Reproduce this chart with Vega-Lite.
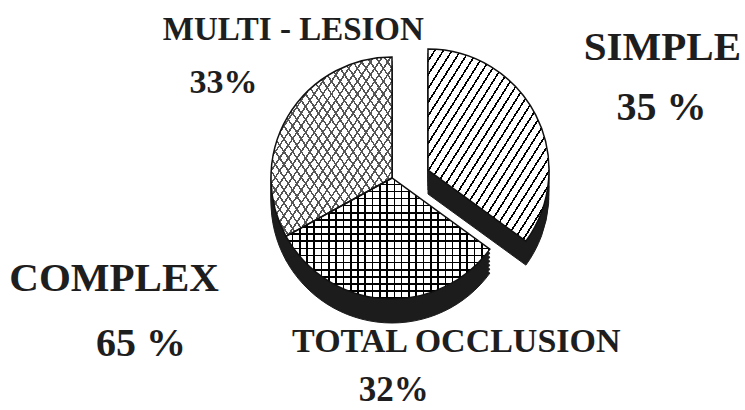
{
"$schema": "https://vega.github.io/schema/vega-lite/v6.json",
"width": 706, "height": 356,
"autosize": {"type": "none"},
"padding": {"left": 39, "right": 0, "top": 0, "bottom": 54},
"background": "white",
"config": {"view": {"stroke": null}},
"data": {"values": [
 {"name": "SIMPLE", "pct": "35 %", "slice": 35, "ord": 1},
 {"name": "TOTAL OCCLUSION", "pct": "32%", "slice": 32, "ord": 2},
 {"name": "COMPLEX", "pct": "65 %", "slice": 0, "ord": 3},
 {"name": "MULTI - LESION", "pct": "33%", "slice": 33, "ord": 4}
]},
"encoding": {
 "theta": {"field": "slice", "type": "quantitative", "stack": true},
 "order": {"field": "ord", "type": "quantitative"}
},
"layer": [
 {"mark": {"type": "arc", "radius": 121, "fill": "#1c1c1c", "stroke": "#1c1c1c", "strokeWidth": 1,
   "xOffset": {"expr": "datum.name === 'SIMPLE' ? 36 : 0"},
   "yOffset": {"expr": "datum.name === 'SIMPLE' ? -4 : 4"}}},
 {"mark": {"type": "arc", "radius": 121, "fill": "#1c1c1c", "stroke": "#1c1c1c", "strokeWidth": 1,
   "xOffset": {"expr": "datum.name === 'SIMPLE' ? 36 : 0"},
   "yOffset": {"expr": "datum.name === 'SIMPLE' ? 0 : 8"}}},
 {"mark": {"type": "arc", "radius": 121, "fill": "#1c1c1c", "stroke": "#1c1c1c", "strokeWidth": 1,
   "xOffset": {"expr": "datum.name === 'SIMPLE' ? 36 : 0"},
   "yOffset": {"expr": "datum.name === 'SIMPLE' ? 4 : 12"}}},
 {"mark": {"type": "arc", "radius": 121, "fill": "#1c1c1c", "stroke": "#1c1c1c", "strokeWidth": 1,
   "xOffset": {"expr": "datum.name === 'SIMPLE' ? 36 : 0"},
   "yOffset": {"expr": "datum.name === 'SIMPLE' ? 8 : 16"}}},
 {"mark": {"type": "arc", "radius": 121, "fill": "#1c1c1c", "stroke": "#1c1c1c", "strokeWidth": 1,
   "xOffset": {"expr": "datum.name === 'SIMPLE' ? 36 : 0"},
   "yOffset": {"expr": "datum.name === 'SIMPLE' ? 12 : 20"}}},
 {"mark": {"type": "arc", "radius": 121, "fill": "#1c1c1c", "stroke": "#1c1c1c", "strokeWidth": 1,
   "xOffset": {"expr": "datum.name === 'SIMPLE' ? 36 : 0"},
   "yOffset": {"expr": "datum.name === 'SIMPLE' ? 16 : 24"}}},
 {"mark": {"type": "arc", "radius": 121, "xOffset": 36, "yOffset": -8,
   "fill": {"gradient": "linear", "x1": 0, "y1": 0, "x2": 1, "y2": 1, "stops": [
{"offset":0,"color":"white"},{"offset":0.0279,"color":"white"},{"offset":0.0279,"color":"black"},{"offset":0.0357,"color":"black"},
{"offset":0.0357,"color":"white"},{"offset":0.0636,"color":"white"},{"offset":0.0636,"color":"black"},{"offset":0.0714,"color":"black"},
{"offset":0.0714,"color":"white"},{"offset":0.0993,"color":"white"},{"offset":0.0993,"color":"black"},{"offset":0.1071,"color":"black"},
{"offset":0.1071,"color":"white"},{"offset":0.135,"color":"white"},{"offset":0.135,"color":"black"},{"offset":0.1429,"color":"black"},
{"offset":0.1429,"color":"white"},{"offset":0.1707,"color":"white"},{"offset":0.1707,"color":"black"},{"offset":0.1786,"color":"black"},
{"offset":0.1786,"color":"white"},{"offset":0.2064,"color":"white"},{"offset":0.2064,"color":"black"},{"offset":0.2143,"color":"black"},
{"offset":0.2143,"color":"white"},{"offset":0.2421,"color":"white"},{"offset":0.2421,"color":"black"},{"offset":0.25,"color":"black"},
{"offset":0.25,"color":"white"},{"offset":0.2779,"color":"white"},{"offset":0.2779,"color":"black"},{"offset":0.2857,"color":"black"},
{"offset":0.2857,"color":"white"},{"offset":0.3136,"color":"white"},{"offset":0.3136,"color":"black"},{"offset":0.3214,"color":"black"},
{"offset":0.3214,"color":"white"},{"offset":0.3493,"color":"white"},{"offset":0.3493,"color":"black"},{"offset":0.3571,"color":"black"},
{"offset":0.3571,"color":"white"},{"offset":0.385,"color":"white"},{"offset":0.385,"color":"black"},{"offset":0.3929,"color":"black"},
{"offset":0.3929,"color":"white"},{"offset":0.4207,"color":"white"},{"offset":0.4207,"color":"black"},{"offset":0.4286,"color":"black"},
{"offset":0.4286,"color":"white"},{"offset":0.4564,"color":"white"},{"offset":0.4564,"color":"black"},{"offset":0.4643,"color":"black"},
{"offset":0.4643,"color":"white"},{"offset":0.4921,"color":"white"},{"offset":0.4921,"color":"black"},{"offset":0.5,"color":"black"},
{"offset":0.5,"color":"white"},{"offset":0.5279,"color":"white"},{"offset":0.5279,"color":"black"},{"offset":0.5357,"color":"black"},
{"offset":0.5357,"color":"white"},{"offset":0.5636,"color":"white"},{"offset":0.5636,"color":"black"},{"offset":0.5714,"color":"black"},
{"offset":0.5714,"color":"white"},{"offset":0.5993,"color":"white"},{"offset":0.5993,"color":"black"},{"offset":0.6071,"color":"black"},
{"offset":0.6071,"color":"white"},{"offset":0.635,"color":"white"},{"offset":0.635,"color":"black"},{"offset":0.6429,"color":"black"},
{"offset":0.6429,"color":"white"},{"offset":0.6707,"color":"white"},{"offset":0.6707,"color":"black"},{"offset":0.6786,"color":"black"},
{"offset":0.6786,"color":"white"},{"offset":0.7064,"color":"white"},{"offset":0.7064,"color":"black"},{"offset":0.7143,"color":"black"},
{"offset":0.7143,"color":"white"},{"offset":0.7421,"color":"white"},{"offset":0.7421,"color":"black"},{"offset":0.75,"color":"black"},
{"offset":0.75,"color":"white"},{"offset":0.7779,"color":"white"},{"offset":0.7779,"color":"black"},{"offset":0.7857,"color":"black"},
{"offset":0.7857,"color":"white"},{"offset":0.8136,"color":"white"},{"offset":0.8136,"color":"black"},{"offset":0.8214,"color":"black"},
{"offset":0.8214,"color":"white"},{"offset":0.8493,"color":"white"},{"offset":0.8493,"color":"black"},{"offset":0.8571,"color":"black"},
{"offset":0.8571,"color":"white"},{"offset":0.885,"color":"white"},{"offset":0.885,"color":"black"},{"offset":0.8929,"color":"black"},
{"offset":0.8929,"color":"white"},{"offset":0.9207,"color":"white"},{"offset":0.9207,"color":"black"},{"offset":0.9286,"color":"black"},
{"offset":0.9286,"color":"white"},{"offset":0.9564,"color":"white"},{"offset":0.9564,"color":"black"},{"offset":0.9643,"color":"black"},
{"offset":0.9643,"color":"white"},{"offset":0.9921,"color":"white"},{"offset":0.9921,"color":"black"},{"offset":1,"color":"black"}
   ]}},
  "encoding": {"opacity": {"condition": {"test": "datum.name === 'SIMPLE'", "value": 1}, "value": 0}}},
 {"mark": {"type": "arc", "radius": 121,
   "fill": {"gradient": "linear", "x1": 0, "y1": 0, "x2": 1, "y2": 0, "stops": [
{"offset":0,"color":"white"},{"offset":0.0279,"color":"white"},{"offset":0.0279,"color":"black"},{"offset":0.0357,"color":"black"},
{"offset":0.0357,"color":"white"},{"offset":0.0636,"color":"white"},{"offset":0.0636,"color":"black"},{"offset":0.0714,"color":"black"},
{"offset":0.0714,"color":"white"},{"offset":0.0993,"color":"white"},{"offset":0.0993,"color":"black"},{"offset":0.1071,"color":"black"},
{"offset":0.1071,"color":"white"},{"offset":0.135,"color":"white"},{"offset":0.135,"color":"black"},{"offset":0.1429,"color":"black"},
{"offset":0.1429,"color":"white"},{"offset":0.1707,"color":"white"},{"offset":0.1707,"color":"black"},{"offset":0.1786,"color":"black"},
{"offset":0.1786,"color":"white"},{"offset":0.2064,"color":"white"},{"offset":0.2064,"color":"black"},{"offset":0.2143,"color":"black"},
{"offset":0.2143,"color":"white"},{"offset":0.2421,"color":"white"},{"offset":0.2421,"color":"black"},{"offset":0.25,"color":"black"},
{"offset":0.25,"color":"white"},{"offset":0.2779,"color":"white"},{"offset":0.2779,"color":"black"},{"offset":0.2857,"color":"black"},
{"offset":0.2857,"color":"white"},{"offset":0.3136,"color":"white"},{"offset":0.3136,"color":"black"},{"offset":0.3214,"color":"black"},
{"offset":0.3214,"color":"white"},{"offset":0.3493,"color":"white"},{"offset":0.3493,"color":"black"},{"offset":0.3571,"color":"black"},
{"offset":0.3571,"color":"white"},{"offset":0.385,"color":"white"},{"offset":0.385,"color":"black"},{"offset":0.3929,"color":"black"},
{"offset":0.3929,"color":"white"},{"offset":0.4207,"color":"white"},{"offset":0.4207,"color":"black"},{"offset":0.4286,"color":"black"},
{"offset":0.4286,"color":"white"},{"offset":0.4564,"color":"white"},{"offset":0.4564,"color":"black"},{"offset":0.4643,"color":"black"},
{"offset":0.4643,"color":"white"},{"offset":0.4921,"color":"white"},{"offset":0.4921,"color":"black"},{"offset":0.5,"color":"black"},
{"offset":0.5,"color":"white"},{"offset":0.5279,"color":"white"},{"offset":0.5279,"color":"black"},{"offset":0.5357,"color":"black"},
{"offset":0.5357,"color":"white"},{"offset":0.5636,"color":"white"},{"offset":0.5636,"color":"black"},{"offset":0.5714,"color":"black"},
{"offset":0.5714,"color":"white"},{"offset":0.5993,"color":"white"},{"offset":0.5993,"color":"black"},{"offset":0.6071,"color":"black"},
{"offset":0.6071,"color":"white"},{"offset":0.635,"color":"white"},{"offset":0.635,"color":"black"},{"offset":0.6429,"color":"black"},
{"offset":0.6429,"color":"white"},{"offset":0.6707,"color":"white"},{"offset":0.6707,"color":"black"},{"offset":0.6786,"color":"black"},
{"offset":0.6786,"color":"white"},{"offset":0.7064,"color":"white"},{"offset":0.7064,"color":"black"},{"offset":0.7143,"color":"black"},
{"offset":0.7143,"color":"white"},{"offset":0.7421,"color":"white"},{"offset":0.7421,"color":"black"},{"offset":0.75,"color":"black"},
{"offset":0.75,"color":"white"},{"offset":0.7779,"color":"white"},{"offset":0.7779,"color":"black"},{"offset":0.7857,"color":"black"},
{"offset":0.7857,"color":"white"},{"offset":0.8136,"color":"white"},{"offset":0.8136,"color":"black"},{"offset":0.8214,"color":"black"},
{"offset":0.8214,"color":"white"},{"offset":0.8493,"color":"white"},{"offset":0.8493,"color":"black"},{"offset":0.8571,"color":"black"},
{"offset":0.8571,"color":"white"},{"offset":0.885,"color":"white"},{"offset":0.885,"color":"black"},{"offset":0.8929,"color":"black"},
{"offset":0.8929,"color":"white"},{"offset":0.9207,"color":"white"},{"offset":0.9207,"color":"black"},{"offset":0.9286,"color":"black"},
{"offset":0.9286,"color":"white"},{"offset":0.9564,"color":"white"},{"offset":0.9564,"color":"black"},{"offset":0.9643,"color":"black"},
{"offset":0.9643,"color":"white"},{"offset":0.9921,"color":"white"},{"offset":0.9921,"color":"black"},{"offset":1,"color":"black"}
   ]}},
  "encoding": {"opacity": {"condition": {"test": "datum.name === 'TOTAL OCCLUSION'", "value": 1}, "value": 0}}},
 {"mark": {"type": "arc", "radius": 121,
   "fill": {"gradient": "linear", "x1": 0, "y1": 0, "x2": 0, "y2": 1, "stops": [
{"offset":0,"color":"transparent"},{"offset":0.0459,"color":"transparent"},{"offset":0.0459,"color":"black"},{"offset":0.0588,"color":"black"},
{"offset":0.0588,"color":"transparent"},{"offset":0.1047,"color":"transparent"},{"offset":0.1047,"color":"black"},{"offset":0.1176,"color":"black"},
{"offset":0.1176,"color":"transparent"},{"offset":0.1635,"color":"transparent"},{"offset":0.1635,"color":"black"},{"offset":0.1765,"color":"black"},
{"offset":0.1765,"color":"transparent"},{"offset":0.2224,"color":"transparent"},{"offset":0.2224,"color":"black"},{"offset":0.2353,"color":"black"},
{"offset":0.2353,"color":"transparent"},{"offset":0.2812,"color":"transparent"},{"offset":0.2812,"color":"black"},{"offset":0.2941,"color":"black"},
{"offset":0.2941,"color":"transparent"},{"offset":0.34,"color":"transparent"},{"offset":0.34,"color":"black"},{"offset":0.3529,"color":"black"},
{"offset":0.3529,"color":"transparent"},{"offset":0.3988,"color":"transparent"},{"offset":0.3988,"color":"black"},{"offset":0.4118,"color":"black"},
{"offset":0.4118,"color":"transparent"},{"offset":0.4576,"color":"transparent"},{"offset":0.4576,"color":"black"},{"offset":0.4706,"color":"black"},
{"offset":0.4706,"color":"transparent"},{"offset":0.5165,"color":"transparent"},{"offset":0.5165,"color":"black"},{"offset":0.5294,"color":"black"},
{"offset":0.5294,"color":"transparent"},{"offset":0.5753,"color":"transparent"},{"offset":0.5753,"color":"black"},{"offset":0.5882,"color":"black"},
{"offset":0.5882,"color":"transparent"},{"offset":0.6341,"color":"transparent"},{"offset":0.6341,"color":"black"},{"offset":0.6471,"color":"black"},
{"offset":0.6471,"color":"transparent"},{"offset":0.6929,"color":"transparent"},{"offset":0.6929,"color":"black"},{"offset":0.7059,"color":"black"},
{"offset":0.7059,"color":"transparent"},{"offset":0.7518,"color":"transparent"},{"offset":0.7518,"color":"black"},{"offset":0.7647,"color":"black"},
{"offset":0.7647,"color":"transparent"},{"offset":0.8106,"color":"transparent"},{"offset":0.8106,"color":"black"},{"offset":0.8235,"color":"black"},
{"offset":0.8235,"color":"transparent"},{"offset":0.8694,"color":"transparent"},{"offset":0.8694,"color":"black"},{"offset":0.8824,"color":"black"},
{"offset":0.8824,"color":"transparent"},{"offset":0.9282,"color":"transparent"},{"offset":0.9282,"color":"black"},{"offset":0.9412,"color":"black"},
{"offset":0.9412,"color":"transparent"},{"offset":0.9871,"color":"transparent"},{"offset":0.9871,"color":"black"},{"offset":1,"color":"black"}
   ]}},
  "encoding": {"opacity": {"condition": {"test": "datum.name === 'TOTAL OCCLUSION'", "value": 1}, "value": 0}}},
 {"mark": {"type": "arc", "radius": 121,
   "fill": {"gradient": "linear", "x1": 0, "y1": 0, "x2": 1, "y2": 1, "stops": [
{"offset":0,"color":"white"},{"offset":0.0279,"color":"white"},{"offset":0.0279,"color":"#555"},{"offset":0.0357,"color":"#555"},
{"offset":0.0357,"color":"white"},{"offset":0.0636,"color":"white"},{"offset":0.0636,"color":"#555"},{"offset":0.0714,"color":"#555"},
{"offset":0.0714,"color":"white"},{"offset":0.0993,"color":"white"},{"offset":0.0993,"color":"#555"},{"offset":0.1071,"color":"#555"},
{"offset":0.1071,"color":"white"},{"offset":0.135,"color":"white"},{"offset":0.135,"color":"#555"},{"offset":0.1429,"color":"#555"},
{"offset":0.1429,"color":"white"},{"offset":0.1707,"color":"white"},{"offset":0.1707,"color":"#555"},{"offset":0.1786,"color":"#555"},
{"offset":0.1786,"color":"white"},{"offset":0.2064,"color":"white"},{"offset":0.2064,"color":"#555"},{"offset":0.2143,"color":"#555"},
{"offset":0.2143,"color":"white"},{"offset":0.2421,"color":"white"},{"offset":0.2421,"color":"#555"},{"offset":0.25,"color":"#555"},
{"offset":0.25,"color":"white"},{"offset":0.2779,"color":"white"},{"offset":0.2779,"color":"#555"},{"offset":0.2857,"color":"#555"},
{"offset":0.2857,"color":"white"},{"offset":0.3136,"color":"white"},{"offset":0.3136,"color":"#555"},{"offset":0.3214,"color":"#555"},
{"offset":0.3214,"color":"white"},{"offset":0.3493,"color":"white"},{"offset":0.3493,"color":"#555"},{"offset":0.3571,"color":"#555"},
{"offset":0.3571,"color":"white"},{"offset":0.385,"color":"white"},{"offset":0.385,"color":"#555"},{"offset":0.3929,"color":"#555"},
{"offset":0.3929,"color":"white"},{"offset":0.4207,"color":"white"},{"offset":0.4207,"color":"#555"},{"offset":0.4286,"color":"#555"},
{"offset":0.4286,"color":"white"},{"offset":0.4564,"color":"white"},{"offset":0.4564,"color":"#555"},{"offset":0.4643,"color":"#555"},
{"offset":0.4643,"color":"white"},{"offset":0.4921,"color":"white"},{"offset":0.4921,"color":"#555"},{"offset":0.5,"color":"#555"},
{"offset":0.5,"color":"white"},{"offset":0.5279,"color":"white"},{"offset":0.5279,"color":"#555"},{"offset":0.5357,"color":"#555"},
{"offset":0.5357,"color":"white"},{"offset":0.5636,"color":"white"},{"offset":0.5636,"color":"#555"},{"offset":0.5714,"color":"#555"},
{"offset":0.5714,"color":"white"},{"offset":0.5993,"color":"white"},{"offset":0.5993,"color":"#555"},{"offset":0.6071,"color":"#555"},
{"offset":0.6071,"color":"white"},{"offset":0.635,"color":"white"},{"offset":0.635,"color":"#555"},{"offset":0.6429,"color":"#555"},
{"offset":0.6429,"color":"white"},{"offset":0.6707,"color":"white"},{"offset":0.6707,"color":"#555"},{"offset":0.6786,"color":"#555"},
{"offset":0.6786,"color":"white"},{"offset":0.7064,"color":"white"},{"offset":0.7064,"color":"#555"},{"offset":0.7143,"color":"#555"},
{"offset":0.7143,"color":"white"},{"offset":0.7421,"color":"white"},{"offset":0.7421,"color":"#555"},{"offset":0.75,"color":"#555"},
{"offset":0.75,"color":"white"},{"offset":0.7779,"color":"white"},{"offset":0.7779,"color":"#555"},{"offset":0.7857,"color":"#555"},
{"offset":0.7857,"color":"white"},{"offset":0.8136,"color":"white"},{"offset":0.8136,"color":"#555"},{"offset":0.8214,"color":"#555"},
{"offset":0.8214,"color":"white"},{"offset":0.8493,"color":"white"},{"offset":0.8493,"color":"#555"},{"offset":0.8571,"color":"#555"},
{"offset":0.8571,"color":"white"},{"offset":0.885,"color":"white"},{"offset":0.885,"color":"#555"},{"offset":0.8929,"color":"#555"},
{"offset":0.8929,"color":"white"},{"offset":0.9207,"color":"white"},{"offset":0.9207,"color":"#555"},{"offset":0.9286,"color":"#555"},
{"offset":0.9286,"color":"white"},{"offset":0.9564,"color":"white"},{"offset":0.9564,"color":"#555"},{"offset":0.9643,"color":"#555"},
{"offset":0.9643,"color":"white"},{"offset":0.9921,"color":"white"},{"offset":0.9921,"color":"#555"},{"offset":1,"color":"#555"}
   ]}},
  "encoding": {"opacity": {"condition": {"test": "datum.name === 'MULTI - LESION'", "value": 1}, "value": 0}}},
 {"mark": {"type": "arc", "radius": 121,
   "fill": {"gradient": "linear", "x1": 1, "y1": 0, "x2": 0, "y2": 1, "stops": [
{"offset":0,"color":"transparent"},{"offset":0.0279,"color":"transparent"},{"offset":0.0279,"color":"#555"},{"offset":0.0357,"color":"#555"},
{"offset":0.0357,"color":"transparent"},{"offset":0.0636,"color":"transparent"},{"offset":0.0636,"color":"#555"},{"offset":0.0714,"color":"#555"},
{"offset":0.0714,"color":"transparent"},{"offset":0.0993,"color":"transparent"},{"offset":0.0993,"color":"#555"},{"offset":0.1071,"color":"#555"},
{"offset":0.1071,"color":"transparent"},{"offset":0.135,"color":"transparent"},{"offset":0.135,"color":"#555"},{"offset":0.1429,"color":"#555"},
{"offset":0.1429,"color":"transparent"},{"offset":0.1707,"color":"transparent"},{"offset":0.1707,"color":"#555"},{"offset":0.1786,"color":"#555"},
{"offset":0.1786,"color":"transparent"},{"offset":0.2064,"color":"transparent"},{"offset":0.2064,"color":"#555"},{"offset":0.2143,"color":"#555"},
{"offset":0.2143,"color":"transparent"},{"offset":0.2421,"color":"transparent"},{"offset":0.2421,"color":"#555"},{"offset":0.25,"color":"#555"},
{"offset":0.25,"color":"transparent"},{"offset":0.2779,"color":"transparent"},{"offset":0.2779,"color":"#555"},{"offset":0.2857,"color":"#555"},
{"offset":0.2857,"color":"transparent"},{"offset":0.3136,"color":"transparent"},{"offset":0.3136,"color":"#555"},{"offset":0.3214,"color":"#555"},
{"offset":0.3214,"color":"transparent"},{"offset":0.3493,"color":"transparent"},{"offset":0.3493,"color":"#555"},{"offset":0.3571,"color":"#555"},
{"offset":0.3571,"color":"transparent"},{"offset":0.385,"color":"transparent"},{"offset":0.385,"color":"#555"},{"offset":0.3929,"color":"#555"},
{"offset":0.3929,"color":"transparent"},{"offset":0.4207,"color":"transparent"},{"offset":0.4207,"color":"#555"},{"offset":0.4286,"color":"#555"},
{"offset":0.4286,"color":"transparent"},{"offset":0.4564,"color":"transparent"},{"offset":0.4564,"color":"#555"},{"offset":0.4643,"color":"#555"},
{"offset":0.4643,"color":"transparent"},{"offset":0.4921,"color":"transparent"},{"offset":0.4921,"color":"#555"},{"offset":0.5,"color":"#555"},
{"offset":0.5,"color":"transparent"},{"offset":0.5279,"color":"transparent"},{"offset":0.5279,"color":"#555"},{"offset":0.5357,"color":"#555"},
{"offset":0.5357,"color":"transparent"},{"offset":0.5636,"color":"transparent"},{"offset":0.5636,"color":"#555"},{"offset":0.5714,"color":"#555"},
{"offset":0.5714,"color":"transparent"},{"offset":0.5993,"color":"transparent"},{"offset":0.5993,"color":"#555"},{"offset":0.6071,"color":"#555"},
{"offset":0.6071,"color":"transparent"},{"offset":0.635,"color":"transparent"},{"offset":0.635,"color":"#555"},{"offset":0.6429,"color":"#555"},
{"offset":0.6429,"color":"transparent"},{"offset":0.6707,"color":"transparent"},{"offset":0.6707,"color":"#555"},{"offset":0.6786,"color":"#555"},
{"offset":0.6786,"color":"transparent"},{"offset":0.7064,"color":"transparent"},{"offset":0.7064,"color":"#555"},{"offset":0.7143,"color":"#555"},
{"offset":0.7143,"color":"transparent"},{"offset":0.7421,"color":"transparent"},{"offset":0.7421,"color":"#555"},{"offset":0.75,"color":"#555"},
{"offset":0.75,"color":"transparent"},{"offset":0.7779,"color":"transparent"},{"offset":0.7779,"color":"#555"},{"offset":0.7857,"color":"#555"},
{"offset":0.7857,"color":"transparent"},{"offset":0.8136,"color":"transparent"},{"offset":0.8136,"color":"#555"},{"offset":0.8214,"color":"#555"},
{"offset":0.8214,"color":"transparent"},{"offset":0.8493,"color":"transparent"},{"offset":0.8493,"color":"#555"},{"offset":0.8571,"color":"#555"},
{"offset":0.8571,"color":"transparent"},{"offset":0.885,"color":"transparent"},{"offset":0.885,"color":"#555"},{"offset":0.8929,"color":"#555"},
{"offset":0.8929,"color":"transparent"},{"offset":0.9207,"color":"transparent"},{"offset":0.9207,"color":"#555"},{"offset":0.9286,"color":"#555"},
{"offset":0.9286,"color":"transparent"},{"offset":0.9564,"color":"transparent"},{"offset":0.9564,"color":"#555"},{"offset":0.9643,"color":"#555"},
{"offset":0.9643,"color":"transparent"},{"offset":0.9921,"color":"transparent"},{"offset":0.9921,"color":"#555"},{"offset":1,"color":"#555"}
   ]}},
  "encoding": {"opacity": {"condition": {"test": "datum.name === 'MULTI - LESION'", "value": 1}, "value": 0}}},
 {"mark": {"type": "arc", "radius": 121, "fill": "white", "fillOpacity": 0, "stroke": "#111", "strokeWidth": 1.5,
   "xOffset": {"expr": "datum.name === 'SIMPLE' ? 36 : 0"},
   "yOffset": {"expr": "datum.name === 'SIMPLE' ? -8 : 0"}},
  "encoding": {"strokeOpacity": {"condition": {"test": "datum.slice > 0", "value": 1}, "value": 0}}},
 {"mark": {"type": "text", "font": "Liberation Serif", "fontWeight": "bold", "color": "#1e1e1e", "align": "center", "baseline": "middle",
   "radius": {"expr": "datum.name === 'SIMPLE' ? 290 : datum.name === 'MULTI - LESION' ? 175 : datum.name === 'TOTAL OCCLUSION' ? 170 : 300"},
   "dx": {"expr": "datum.name === 'SIMPLE' ? 12 : datum.name === 'MULTI - LESION' ? 52 : datum.name === 'TOTAL OCCLUSION' ? 75 : -15"},
   "dy": {"expr": "datum.name === 'SIMPLE' ? 2 : datum.name === 'MULTI - LESION' ? -59 : datum.name === 'TOTAL OCCLUSION' ? -6 : -44"},
   "fontSize": {"expr": "datum.name === 'SIMPLE' ? 41 : datum.name === 'MULTI - LESION' ? 33 : datum.name === 'TOTAL OCCLUSION' ? 34 : 41"}},
  "encoding": {"text": {"field": "name"}}},
 {"mark": {"type": "text", "font": "Liberation Serif", "fontWeight": "bold", "color": "#1e1e1e", "align": "center", "baseline": "middle",
   "radius": {"expr": "datum.name === 'SIMPLE' ? 290 : datum.name === 'MULTI - LESION' ? 190 : datum.name === 'TOTAL OCCLUSION' ? 212 : 300"},
   "dx": {"expr": "datum.name === 'SIMPLE' ? 11 : datum.name === 'MULTI - LESION' ? -5 : datum.name === 'TOTAL OCCLUSION' ? 15 : 12"},
   "dy": {"expr": "datum.name === 'SIMPLE' ? 62 : datum.name === 'MULTI - LESION' ? 2 : datum.name === 'TOTAL OCCLUSION' ? 0 : 21"},
   "fontSize": {"expr": "datum.name === 'SIMPLE' ? 40 : datum.name === 'MULTI - LESION' ? 34 : datum.name === 'TOTAL OCCLUSION' ? 35 : 40"}},
  "encoding": {"text": {"field": "pct"}}}
]
}
